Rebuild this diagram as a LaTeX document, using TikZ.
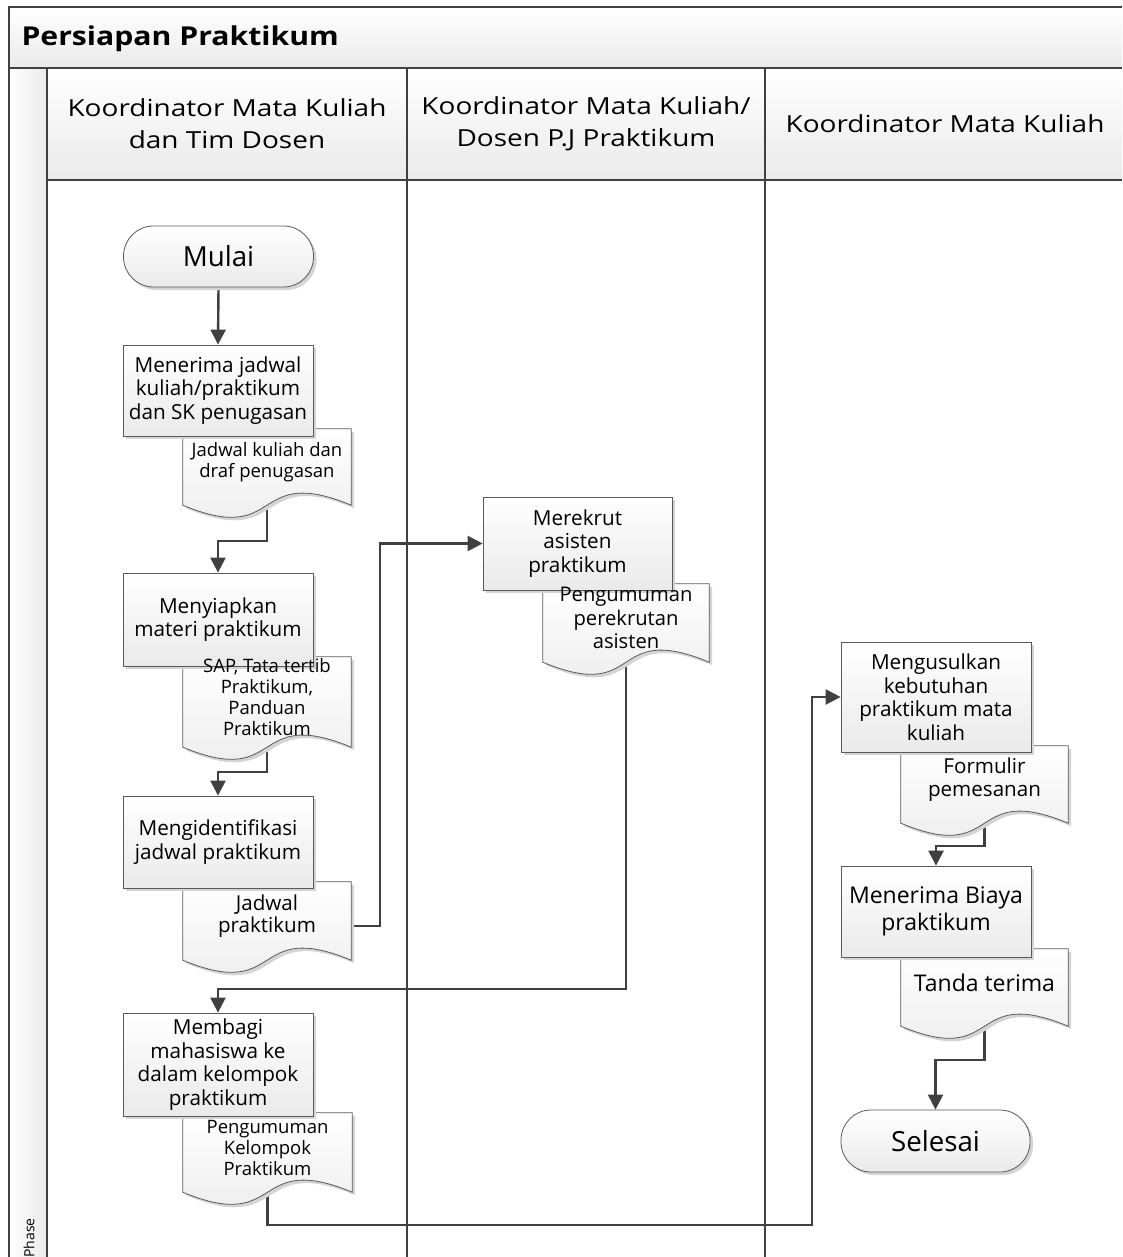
\documentclass[tikz,border=0pt]{standalone}
\usepackage{fontspec}
\setmainfont{Open Sans}
\newfontfamily\widefont[FakeStretch=1.19]{Open Sans}
\newfontfamily\titlefont[FakeStretch=1.16]{Open Sans}
\usetikzlibrary{arrows.meta,calc,shadows}
\pgfdeclarelayer{lanes}\pgfdeclarelayer{conns}\pgfdeclarelayer{docs}
\pgfsetlayers{lanes,conns,docs,main}
\definecolor{edgec}{HTML}{5A5A5A}
\definecolor{connc}{HTML}{404040}
\definecolor{fillbot}{HTML}{EAEAEA}
\definecolor{shadowc}{HTML}{D4D4D4}
\tikzset{
  shd/.style={drop shadow={shadow xshift=3pt,shadow yshift=-3pt,fill=shadowc,opacity=1}},
  boxstyle/.style={rectangle,draw=edgec,line width=0.8pt,top color=white,bottom color=fillbot,
    minimum width=190pt,align=center,inner sep=2pt,shd,
    font=\fontsize{20.7}{23.5}\selectfont},
  termstyle/.style={boxstyle,rounded corners=30pt,minimum height=61pt,font=\fontsize{27.7}{30}\selectfont},
  docnode/.style={rectangle,draw=none,inner sep=0pt,align=center,minimum width=168pt},
  docsmall/.style={docnode,font=\fontsize{18.5}{21}\selectfont},
  docmid/.style={docnode,font=\fontsize{20.2}{23.5}\selectfont},
  docbig/.style={docnode,font=\fontsize{20.6}{22.5}\selectfont},
  docpath/.style={draw=edgec,line width=0.8pt,top color=white,bottom color=fillbot,shd},
  conn/.style={draw=connc,line width=2.4pt},
  arr/.style={conn,-{Triangle[length=15pt,width=15pt]}},
  laneline/.style={draw=connc,line width=2pt},
  lanehead/.style={align=center,font=\widefont\fontsize{23.5}{32}\selectfont},
}
\newcommand{\docshape}[1]{%
  \begin{pgfonlayer}{docs}
  \path[docpath] (#1.north west) -- (#1.north east) -- ($(#1.south east)+(0,10)$)
    .. controls ($(#1.south east)+(-101,-32)$) and ($(#1.south west)+(101,52)$) ..
    ($(#1.south west)+(0,10)$) -- cycle;
  \end{pgfonlayer}}
\begin{document}
\begin{tikzpicture}[x=1pt,y=-1pt]
\useasboundingbox (0,0) rectangle (1122,1257);
% lanes
\begin{pgfonlayer}{lanes}
\shade[top color=white,bottom color=fillbot] (9,7) rectangle (1122,68);
\shade[top color=white,bottom color=fillbot] (47,68) rectangle (1122,180);
\shade[left color=white,right color=fillbot] (9,68) rectangle (47,1257);
\draw[laneline] (1122,7) -- (9,7) -- (9,1257);
\draw[laneline] (9,68) -- (1122,68);
\draw[laneline] (47,68) -- (47,1257);
\draw[laneline] (47,180) -- (1122,180);
\draw[laneline] (407,68) -- (407,1257);
\draw[laneline] (765,68) -- (765,1257);
\end{pgfonlayer}
\node[anchor=west,font=\titlefont\bfseries\fontsize{26}{30}\selectfont] (title) at (18,39) {Persiapan Praktikum};
\node[lanehead] (lane1) at (227,124) {Koordinator Mata Kuliah\\dan Tim Dosen};
\node[lanehead] (lane2) at (586,124) {Koordinator Mata Kuliah/\\Dosen P.J Praktikum};
\node[lanehead] (lane3) at (945,124) {Koordinator Mata Kuliah};
\node[rotate=90,font=\fontsize{14}{16}\selectfont] (phase) at (29,1238) {Phase};
% lane 1
\node[termstyle] (mulai) at (218.5,256.5) {Mulai};
\node[boxstyle,minimum height=91pt] (b1) at (218,390.5) {Menerima jadwal\\kuliah/praktikum\\dan SK penugasan};
\node[docsmall,minimum height=66pt] (d1) at (267,462) {Jadwal kuliah dan\\draf penugasan};
\docshape{d1}
\node[boxstyle,minimum height=93pt] (b2) at (218,619.5) {Menyiapkan\\materi praktikum};
\node[docsmall,minimum height=80pt] (d2) at (267,697) {SAP, Tata tertib\\Praktikum,\\Panduan\\Praktikum};
\docshape{d2}
\node[boxstyle,minimum height=92pt] (b3) at (218,842) {Mengidentifikasi\\jadwal praktikum};
\node[docbig,minimum height=68pt] (d3) at (267,916) {Jadwal\\praktikum};
\docshape{d3}
\node[boxstyle,minimum height=103pt] (b5) at (218,1064.5) {Membagi\\mahasiswa ke\\dalam kelompok\\praktikum};
\node[docsmall,minimum height=69pt,minimum width=169pt] (d5) at (267.5,1147.5) {Pengumuman\\Kelompok\\Praktikum};
\docshape{d5}
% lane 2
\node[boxstyle,minimum height=93pt,minimum width=189pt] (b4) at (577.5,543.5) {Merekrut\\asisten\\praktikum};
\node[docmid,minimum height=68pt,minimum width=166pt] (d4) at (626,618) {Pengumuman\\perekrutan\\asisten};
\docshape{d4}
% lane 3
\node[boxstyle,minimum height=110pt] (b6) at (936,697) {Mengusulkan\\kebutuhan\\praktikum mata\\kuliah};
\node[docbig,minimum height=67pt,minimum width=167pt] (d6) at (984.5,779.5) {Formulir\\pemesanan};
\docshape{d6}
\node[boxstyle,minimum height=91pt,font=\fontsize{23}{27}\selectfont] (b7) at (936,911.5) {Menerima Biaya\\praktikum};
\node[docbig,minimum height=67pt,minimum width=167pt,font=\fontsize{23}{26}\selectfont] (d7) at (984.5,982.5) {Tanda terima};
\docshape{d7}
\node[termstyle,minimum width=189pt,minimum height=62pt] (selesai) at (935.5,1141) {Selesai};
% connectors
\coordinate (k1) at (812,1225);
\begin{pgfonlayer}{conns}
\draw[arr] (mulai.south) -- (b1.north);
\draw[arr] (d1.south) -- ++(0,46) -| (b2.north);
\draw[arr] (d2.south) -- ++(0,35) -| (b3.north);
\draw[arr] ([yshift=-10pt]d3.east) -- ++(29,0) |- (b4.west);
\draw[arr] (d4.south) -- ++(0,337) -| (b5.north);
\draw[arr] (d5.south) |- (k1) |- (b6.west);
\draw[arr] (d6.south) -- ++(0,33) -| (b7.north);
\draw[arr] (d7.south) -- ++(0,44) -| (selesai.north);
\end{pgfonlayer}
\end{tikzpicture}
\end{document}
